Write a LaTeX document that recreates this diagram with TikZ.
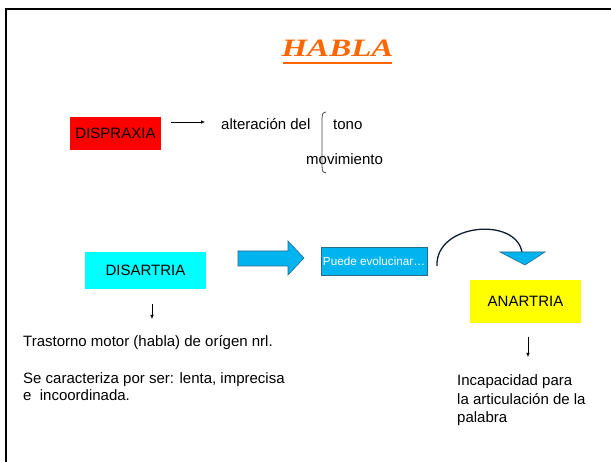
\documentclass[tikz,border=0pt]{standalone}
\usepackage{fontspec}
\setmainfont{Liberation Sans}
\newfontfamily\titlefont{Liberation Serif}
\usetikzlibrary{arrows.meta}
\definecolor{orangeT}{HTML}{FF6600}
\definecolor{redbox}{HTML}{FF0000}
\definecolor{cyanbox}{HTML}{00FFFF}
\definecolor{bluebox}{HTML}{00B4F0}
\definecolor{blueline}{HTML}{2A6A8C}
\definecolor{arcline}{HTML}{0F1E2E}
\definecolor{yellowbox}{HTML}{FFFF00}
\begin{document}
\begin{tikzpicture}[x=1pt,y=-1pt,
  txt/.style={font=\fontsize{15}{18}\selectfont, inner sep=0pt, anchor=base west},
  colbox/.style={inner sep=0pt, font=\fontsize{15}{18}\selectfont, text=black},
  smallarrow/.style={-{Latex[length=4pt,width=3.5pt]}, line width=0.6pt}]
\useasboundingbox (0,0) rectangle (611,462);
\fill[white] (0,0) rectangle (611,462);
% frame
\draw[line width=2pt] (6,462) -- (6,9) -- (611,9);
% title
\node[inner sep=0pt, anchor=base, text=orangeT, font=\titlefont\bfseries\itshape\fontsize{25}{28}\selectfont] (title) at (337.5,57) {\scalebox{1.32}[1]{HABLA}};
\draw[orangeT, line width=2pt] (283,63) -- (392,63);
% DISPRAXIA
\node[colbox, fill=redbox, minimum width=91pt, minimum height=33pt] (dispraxia) at (115.5,133.5) {DISPRAXIA};
\coordinate (da1) at (171,122);
\coordinate (da2) at (205,122);
\draw[smallarrow] (da1) -- (da2);
\node[txt] (alter) at (221,130) {alteración del};
\node[txt] (tono) at (333,130) {tono};
\node[txt] (movim) at (306,165) {movimiento};
\draw[gray!60!black, line width=0.8pt] (326,112) .. controls (322.5,113) .. (322,119) -- (322,166) .. controls (322.5,172) .. (326,173);
% DISARTRIA
\node[colbox, fill=cyanbox, minimum width=121pt, minimum height=37pt] (disartria) at (145.5,270.5) {DISARTRIA};
\coordinate (dd1) at (152,304);
\coordinate (dd2) at (152,319);
\draw[smallarrow] (dd1) -- (dd2);
\node[txt] (tras) at (23,347) {Trastorno motor (habla) de orígen nrl.};
\node[txt] (secar) at (23,384) {Se caracteriza por ser: lenta, imprecisa};
\node[txt] (eincoor) at (23,401) {e\ \ incoordinada.};
% block arrow
\draw[fill=bluebox, draw=blueline, line width=0.6pt] (238,251) -- (288,251) -- (288,241) -- (304,258) -- (288,275) -- (288,266) -- (238,266) -- cycle;
% Puede evolucinar
\node[inner sep=0pt, fill=bluebox, draw=blueline, line width=0.5pt, minimum width=106pt, minimum height=28pt, text=white, font=\fontsize{11.7}{13}\selectfont] (puede) at (374,261) {Puede evolucinar\ldots};
% curved arrow
\coordinate (c1) at (437,266);
\coordinate (c2) at (522,252);
\draw[arcline, line width=1.3pt] (c1) .. controls (435,224) and (515,216) .. (c2);
\draw[fill=bluebox, draw=blueline, line width=0.6pt] (500,252) -- (545,252) -- (525,265) -- cycle;
% ANARTRIA
\node[colbox, fill=yellowbox, minimum width=111pt, minimum height=43pt] (anartria) at (525.5,301.5) {ANARTRIA};
\coordinate (ad1) at (528,337);
\coordinate (ad2) at (528,357);
\draw[smallarrow] (ad1) -- (ad2);
\node[txt] (inc1) at (457,386) {Incapacidad para};
\node[txt] (inc2) at (457,405) {la articulación de la};
\node[txt] (inc3) at (457,423) {palabra};
\end{tikzpicture}
\end{document}
